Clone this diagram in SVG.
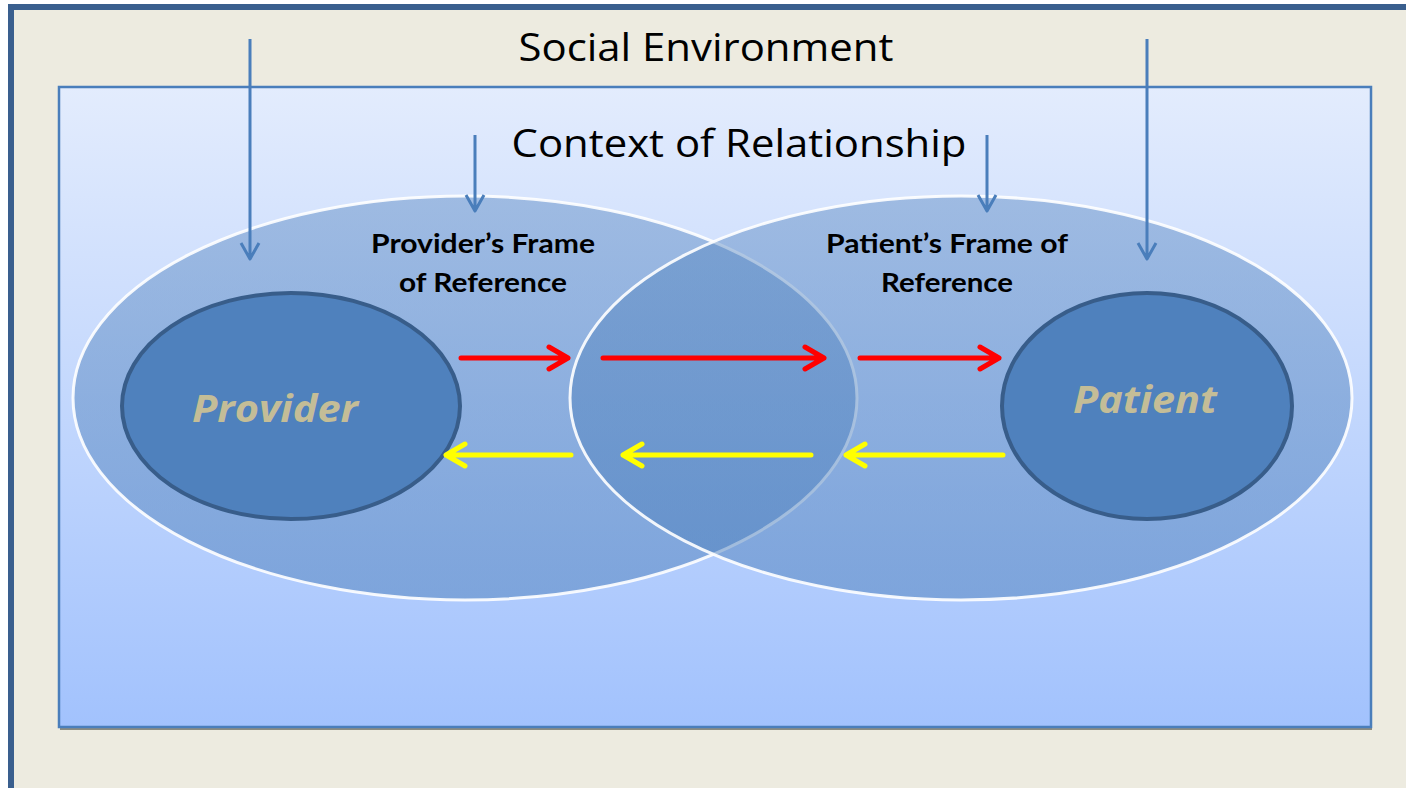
<svg xmlns="http://www.w3.org/2000/svg" width="1406" height="788" viewBox="0 0 1406 788">
  <defs>
    <linearGradient id="ctxFill" x1="0" y1="0" x2="0" y2="1">
      <stop offset="0" stop-color="#E3ECFD"/>
      <stop offset="1" stop-color="#A2C2FD"/>
    </linearGradient>
    <linearGradient id="frameFill" x1="0" y1="0" x2="0" y2="1">
      <stop offset="0" stop-color="#4F81BD" stop-opacity="0.42"/>
      <stop offset="1" stop-color="#4F81BD" stop-opacity="0.52"/>
    </linearGradient>
    <style>
      .title { font-family: "Open Sans", "Liberation Sans", sans-serif; font-size: 38px; fill: #000; text-anchor: middle; }
      .frame-label { font-family: Lato, "Open Sans", "Liberation Sans", sans-serif; font-weight: bold; font-size: 26px; fill: #000; text-anchor: middle; }
      .party { font-family: "Open Sans", "Liberation Sans", sans-serif; font-weight: bold; font-style: italic; font-size: 38px; fill: #C4BD97; text-anchor: middle; }
      .frame { fill: url(#frameFill); stroke: #FFFFFF; stroke-width: 3; stroke-opacity: 0.9; }
      .party-shape { fill: #4F81BD; stroke: #385D8A; stroke-width: 4; }
      .influence { fill: none; stroke: #4A7EBB; stroke-width: 3; stroke-linecap: butt; stroke-linejoin: round; }
      .msg { fill: none; stroke-width: 5; stroke-linecap: round; stroke-linejoin: round; }
      .to-patient { stroke: #FF0000; }
      .to-provider { stroke: #FFFF00; }
    </style>
  </defs>

  <!-- page and outer frame -->
  <rect x="0" y="0" width="1406" height="788" fill="#FFFFFF"/>
  <rect x="11" y="7" width="1420" height="800" fill="#EDEBE0" stroke="#3A5F8E" stroke-width="6"/>

  <!-- context of relationship panel -->
  <g id="context">
    <rect x="60" y="90" width="1312" height="640" fill="#8C8C80"/>
    <rect x="59" y="87" width="1312" height="640" fill="url(#ctxFill)" stroke="#4A7EBB" stroke-width="2.5"/>
  </g>

  <!-- frames of reference -->
  <g id="provider-frame">
    <ellipse class="frame" cx="465" cy="398" rx="392" ry="202"/>
  </g>
  <g id="patient-frame">
    <ellipse class="frame" cx="961" cy="398" rx="391" ry="202"/>
  </g>

  <!-- parties -->
  <g id="provider">
    <ellipse class="party-shape" cx="291" cy="406" rx="169" ry="113"/>
    <text class="party" x="275" y="422" textLength="166" lengthAdjust="spacingAndGlyphs">Provider</text>
  </g>
  <g id="patient">
    <ellipse class="party-shape" cx="1147" cy="406" rx="145" ry="113"/>
    <text class="party" x="1145" y="413" textLength="144" lengthAdjust="spacingAndGlyphs">Patient</text>
  </g>

  <!-- labels -->
  <g id="social-environment">
    <text class="title" x="706" y="61" textLength="375" lengthAdjust="spacingAndGlyphs">Social Environment</text>
  </g>
  <g id="context-label">
    <text class="title" x="739" y="157" textLength="455" lengthAdjust="spacingAndGlyphs">Context of Relationship</text>
  </g>
  <g id="provider-frame-label">
    <text class="frame-label" x="483" y="253" textLength="224" lengthAdjust="spacingAndGlyphs">Provider’s Frame</text>
    <text class="frame-label" x="483" y="292" textLength="168" lengthAdjust="spacingAndGlyphs">of Reference</text>
  </g>
  <g id="patient-frame-label">
    <text class="frame-label" x="947" y="253" textLength="242" lengthAdjust="spacingAndGlyphs">Patient’s Frame of</text>
    <text class="frame-label" x="947" y="292" textLength="132" lengthAdjust="spacingAndGlyphs">Reference</text>
  </g>

  <!-- connectors -->
  <g id="connectors">
    <!-- environmental influences -->
    <path class="influence" d="M250 39 V259 M241 243 L250 259 L259 243"/>
    <path class="influence" d="M475 135 V211 M466 195 L475 211 L484 195"/>
    <path class="influence" d="M987 135 V211 M978 195 L987 211 L996 195"/>
    <path class="influence" d="M1147 39 V259 M1138 243 L1147 259 L1156 243"/>

    <!-- provider to patient -->
    <path class="msg to-patient" d="M461 358 H568 M549 347 L568 358 L549 369"/>
    <path class="msg to-patient" d="M603 358 H824 M805 347 L824 358 L805 369"/>
    <path class="msg to-patient" d="M860 358 H999 M980 347 L999 358 L980 369"/>

    <!-- patient to provider -->
    <path class="msg to-provider" d="M1003 455 H846 M865 444 L846 455 L865 466"/>
    <path class="msg to-provider" d="M811 455 H623 M642 444 L623 455 L642 466"/>
    <path class="msg to-provider" d="M571 455 H446 M465 444 L446 455 L465 466"/>
  </g>
</svg>
